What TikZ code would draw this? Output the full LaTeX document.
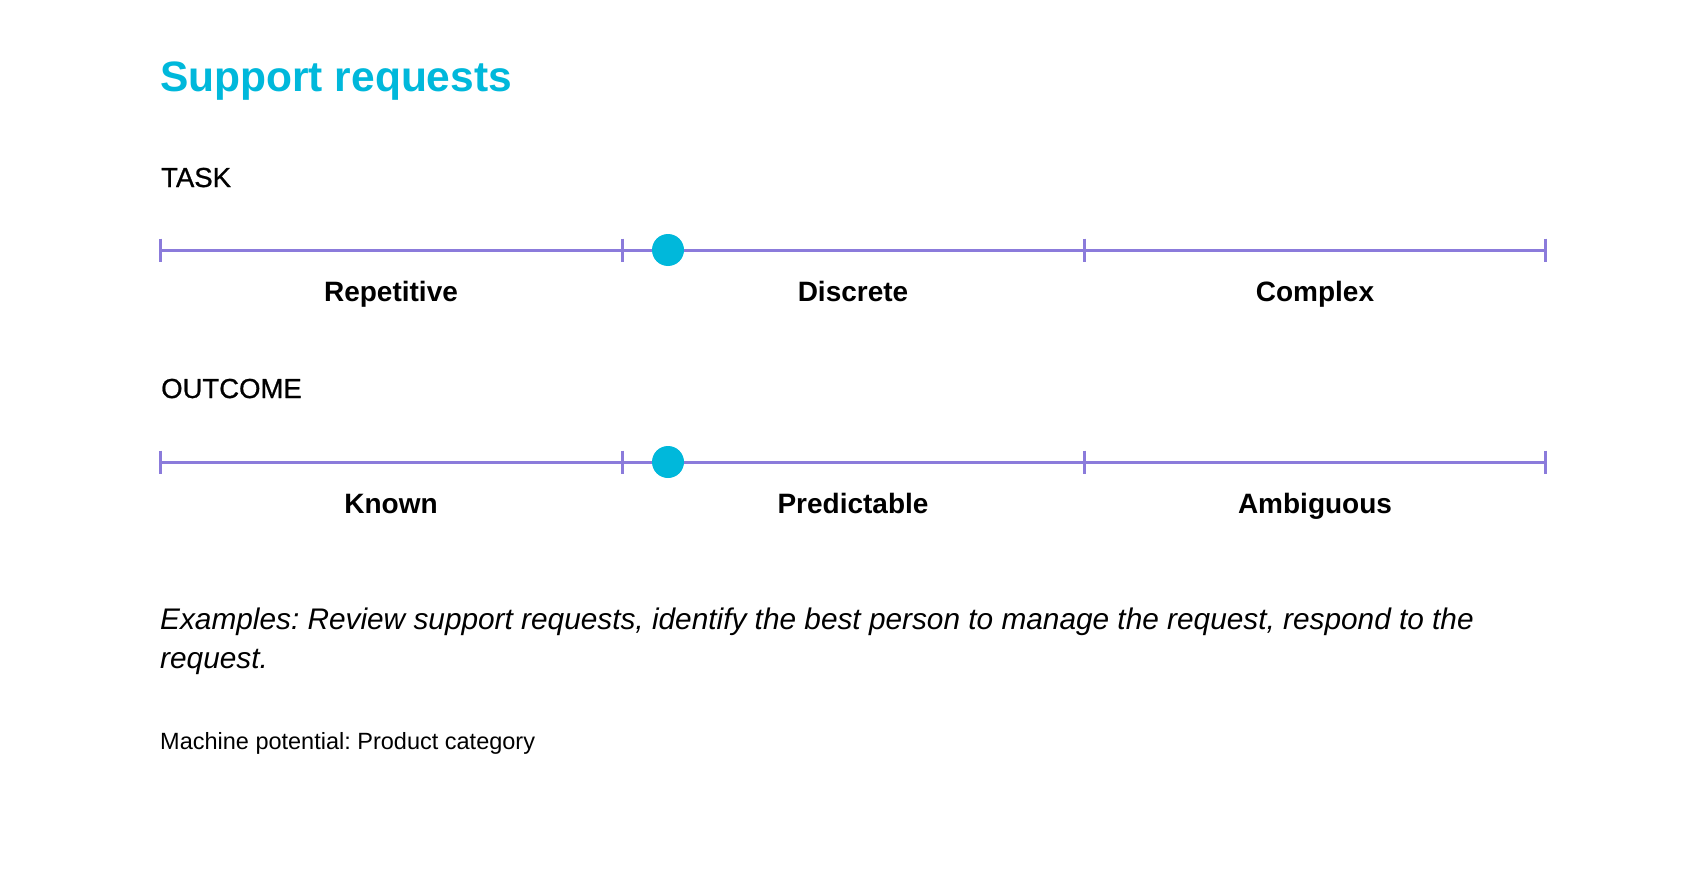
\documentclass[tikz,border=0pt]{standalone}
\usepackage{fontspec}
\setmainfont{Liberation Sans}
\newfontfamily\mediumfont[FakeBold=0.8]{Liberation Sans}
\definecolor{brandcyan}{HTML}{00B8DB}
\definecolor{scalepurple}{HTML}{8B7BDB}
\frenchspacing

\begin{document}
\begin{tikzpicture}[x=1pt, y=-1pt,
    scaleline/.style={scalepurple, line width=3pt},
    marker/.style={circle, fill=brandcyan, inner sep=0pt, minimum size=32pt},
    heading/.style={anchor=base west, inner sep=0pt, font=\mediumfont\fontsize{27.5}{33}\selectfont},
    seglabel/.style={anchor=base, inner sep=0pt, font=\bfseries\fontsize{28}{34}\selectfont},
    note/.style={anchor=base west, inner sep=0pt}]
    \useasboundingbox[fill=white] (0,0) rectangle (1706,872);
    \node[note, brandcyan, font=\bfseries\fontsize{42.5}{50}\selectfont] (title) at (160,92) {Support requests};
    % task scale
    \node[heading] (task) at (161,187) {TASK};
    \coordinate (a0) at (160,250);
    \coordinate (a1) at (622,250);
    \coordinate (a2) at (1084,250);
    \coordinate (a3) at (1545,250);
    \draw[scaleline] (a0) -- (a3);
    \draw[scaleline] (a0) ++(0,-11.5) -- ++(0,23) (a1) ++(0,-11.5) -- ++(0,23)
        (a2) ++(0,-11.5) -- ++(0,23) (a3) ++(0,-11.5) -- ++(0,23);
    \node[marker] (taskdot) at (668,250) {};
    \node[seglabel] (repetitive) at (391,301) {Repetitive};
    \node[seglabel] (discrete) at (853,301) {Discrete};
    \node[seglabel] (complex) at (1315,301) {Complex};
    % outcome scale
    \node[heading] (outcome) at (161,398) {OUTCOME};
    \coordinate (b0) at (160,462);
    \coordinate (b1) at (622,462);
    \coordinate (b2) at (1084,462);
    \coordinate (b3) at (1545,462);
    \draw[scaleline] (b0) -- (b3);
    \draw[scaleline] (b0) ++(0,-11.5) -- ++(0,23) (b1) ++(0,-11.5) -- ++(0,23)
        (b2) ++(0,-11.5) -- ++(0,23) (b3) ++(0,-11.5) -- ++(0,23);
    \node[marker] (outcomedot) at (668,462) {};
    \node[seglabel] (known) at (391,513) {Known};
    \node[seglabel] (predictable) at (853,513) {Predictable};
    \node[seglabel] (ambiguous) at (1315,513) {Ambiguous};
    % notes
    \node[note, font=\itshape\fontsize{29.8}{39}\selectfont] (examples) at (160,629)
        {Examples: Review support requests, identify the best person to manage the request, respond to the};
    \node[note, font=\itshape\fontsize{29.8}{39}\selectfont] (examplesend) at (160,668) {request.};
    \node[note, font=\fontsize{23.5}{28}\selectfont] (potential) at (160,749) {Machine potential: Product category};
\end{tikzpicture}
\end{document}
